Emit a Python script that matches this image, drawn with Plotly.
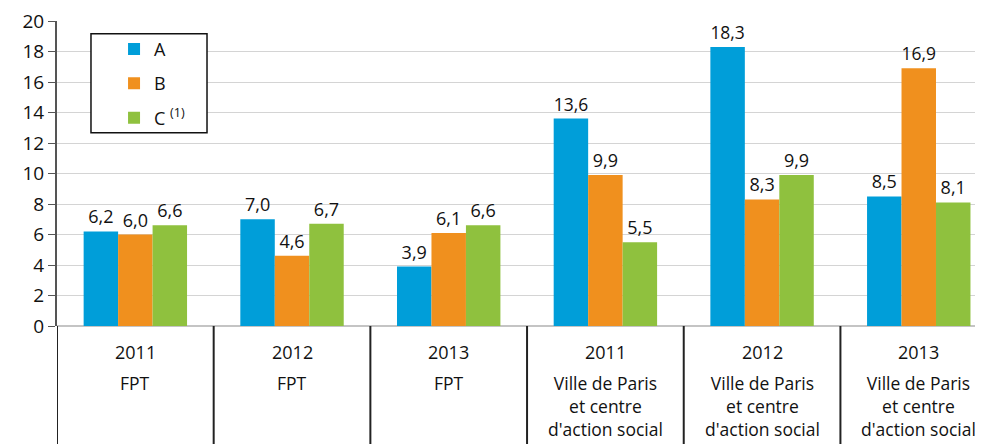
import plotly.graph_objects as go

years = ["2011", "2012", "2013", "2011", "2012", "2013"]
groups = ["FPT", "FPT", "FPT",
          "Ville de Paris<br>et centre<br>d'action social",
          "Ville de Paris<br>et centre<br>d'action social",
          "Ville de Paris<br>et centre<br>d'action social"]
series_names = ["A", "B", "C <sup>(1)</sup>"]
values_a = [6.2, 7.0, 3.9, 13.6, 18.3, 8.5]
values_b = [6.0, 4.6, 6.1, 9.9, 8.3, 16.9]
values_c = [6.6, 6.7, 6.6, 5.5, 9.9, 8.1]
colors = ["#009ED9", "#F0901E", "#8FC13E"]
y_ticks = list(range(0, 21, 2))

FONT = "Open Sans"
TXT = "#111111"
x = list(range(len(years)))

fig = go.Figure()
for i, (name, vals) in enumerate(zip(series_names, [values_a, values_b, values_c])):
    fig.add_trace(go.Bar(
        x=x, y=vals, name=name,
        marker=dict(color=colors[i], line=dict(width=0)),
        texttemplate="%{y:.1f}", textposition="outside",
        textfont=dict(size=18, color=TXT, family=FONT),
        cliponaxis=False,
        legendgroup=f"g{i}",
    ))

shapes = []
for i in range(len(years)):
    shapes.append(dict(type="line", xref="x", yref="paper",
                       x0=i - 0.5, x1=i - 0.5, y0=0, y1=-0.42,
                       line=dict(color="#222", width=2)))
# legend frame
shapes.append(dict(type="rect", xref="paper", yref="paper",
                   x0=0.0367, x1=0.162, y0=0.634, y1=0.958,
                   fillcolor="white", line=dict(color="#111", width=1.5),
                   layer="above"))

annotations = []
for i in range(len(years)):
    annotations.append(dict(xref="x", yref="paper", x=i, y=-0.084,
                            text=years[i], showarrow=False, yanchor="middle",
                            font=dict(size=18, color=TXT, family=FONT)))
    annotations.append(dict(xref="x", yref="paper", x=i, y=-0.14,
                            text=groups[i], showarrow=False, yanchor="top",
                            font=dict(size=17.5, color=TXT, family=FONT)))

fig.update_layout(
    width=975, height=436,
    margin=dict(l=49, r=0, t=9, b=118),
    paper_bgcolor="white", plot_bgcolor="white",
    barmode="group", bargap=0.34, bargroupgap=0,
    separators=", ",
    font=dict(family=FONT, size=18, color=TXT),
    showlegend=True,
    legend=dict(x=0.0616, y=0.968, xanchor="left", yanchor="top",
                bgcolor="rgba(0,0,0,0)", borderwidth=0,
                font=dict(size=18, family=FONT, color=TXT),
                tracegroupgap=8, itemwidth=30),
    xaxis=dict(range=[-0.5, 5.41], showticklabels=False, showgrid=False,
               zeroline=False, showline=False, ticks=""),
    yaxis=dict(range=[0, 20], tickvals=y_ticks, showgrid=True,
               gridcolor="#d4d4d4", gridwidth=1,
               zeroline=True, zerolinecolor="#c4c4c4", zerolinewidth=2,
               showline=True, linecolor="#555", linewidth=2,
               ticks="outside", ticklen=7, tickcolor="#555", tickwidth=1,
               ticklabeloverflow="allow",
               tickfont=dict(size=19, family=FONT, color=TXT)),
    shapes=shapes, annotations=annotations,
)

fig.write_html("out.html")
